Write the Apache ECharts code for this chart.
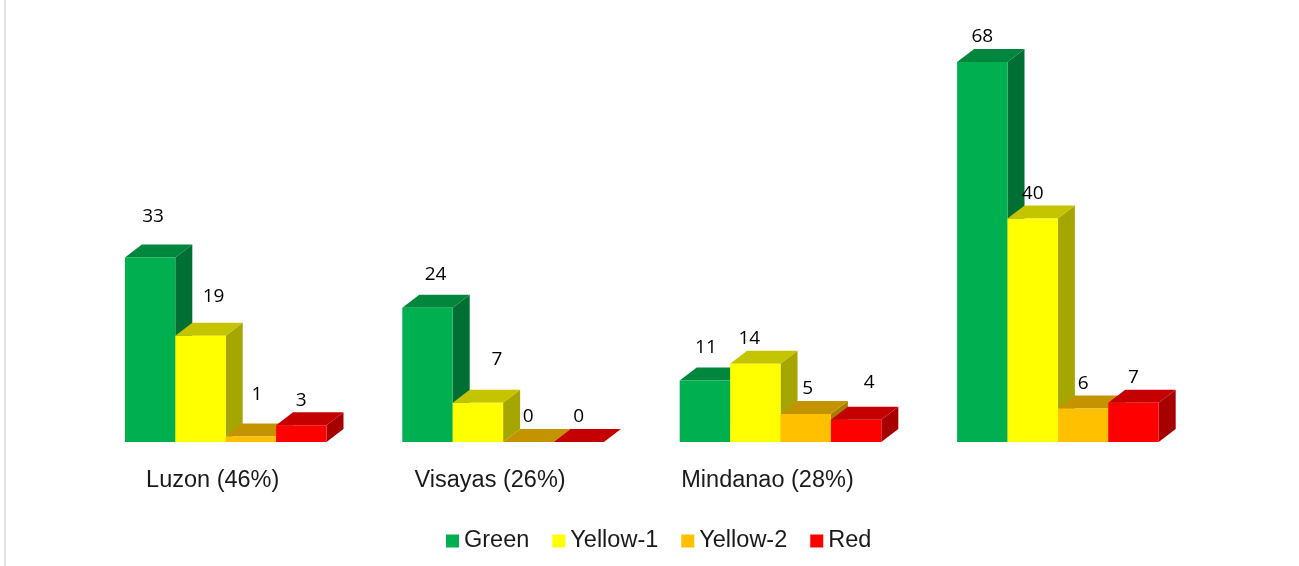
<!DOCTYPE html>
<html>
<head>
<meta charset="utf-8">
<style>html,body{margin:0;padding:0;background:#fff}#c{width:1299px;height:566px}</style>
<script src="https://cdn.jsdelivr.net/npm/echarts@6/dist/echarts.min.js"></script>
</head>
<body>
<div id="c"></div>
<script>
const categories = ['Luzon (46%)', 'Visayas (26%)', 'Mindanao (28%)', ''];
const seriesNames = ['Green', 'Yellow-1', 'Yellow-2', 'Red'];
const green = [33, 24, 11, 68];
const yellow1 = [19, 7, 14, 40];
const yellow2 = [1, 0, 5, 6];
const red = [3, 0, 4, 7];
const values = [green, yellow1, yellow2, red];

// face colours: front, top, side
const faces = [
  ['#00B050', '#00863D', '#006F33'],
  ['#FFFF00', '#C4C400', '#A6A600'],
  ['#FFC000', '#C49300', '#A67D00'],
  ['#FF0000', '#C40000', '#A60000']
];
// hand-placed label nudges in the reference, [dx, dy] from the default spot
const labelShift = [
  [[3, -16], [8, -8], [1, -8], [0, 0]],
  [[13, -14], [19, -18], [-6, 0], [0, 0]],
  [[6, -17], [0, 0], [2, 0], [0, 0]],
  [[0, 0], [0, 0], [13, -12], [0, 0]]
];
const depthX = 17, depthY = 13, groupFrac = 0.7267;

function makeRender(si) {
  return function (params, api) {
    const cat = api.value(0), v = api.value(1);
    const base = api.coord([cat, 0]), top = api.coord([cat, v]);
    const w = api.size([1, 0])[0] * groupFrac / 4;
    const x = base[0] - 2 * w + si * w, yT = top[1], yB = base[1];
    const c = faces[si], sh = labelShift[si][cat];
    const poly = (pts, fill, z2) => ({ type: 'polygon', z2: z2, shape: { points: pts }, style: { fill: fill } });
    return {
      type: 'group',
      children: [
        poly([[x + w, yB], [x + w + depthX, yB - depthY], [x + w + depthX, yT - depthY], [x + w, yT]], c[2], 1),
        poly([[x, yT], [x + depthX, yT - depthY], [x + w + depthX, yT - depthY], [x + w, yT]], c[1], 2),
        { type: 'rect', z2: 3, shape: { x: x, y: yT, width: w, height: yB - yT }, style: { fill: c[0] } },
        { type: 'text', z2: 100, style: {
            text: String(v), x: x + w / 2 + sh[0], y: yT - 25 + sh[1],
            align: 'center', verticalAlign: 'middle',
            font: '19px "Open Sans"', fill: '#000' } }
      ]
    };
  };
}

const chart = echarts.init(document.getElementById('c'), null, { renderer: 'canvas' });
chart.setOption({
  animation: false,
  backgroundColor: '#fff',
  graphic: [{ type: 'rect', silent: true, shape: { x: 4, y: 0, width: 2, height: 566 }, style: { fill: '#E2E2E2' } }],
  grid: { left: 87, top: 50.7, width: 1109.6, height: 391.3 },
  legend: {
    left: 441, top: 524, icon: 'rect', itemWidth: 13, itemHeight: 13, itemGap: 23,
    data: seriesNames,
    textStyle: { fontFamily: 'Liberation Sans', fontSize: 23.5, color: '#1a1a1a', padding: [0, 0, 0, 0] }
  },
  xAxis: {
    type: 'category', data: categories,
    axisLine: { show: false }, axisTick: { show: false },
    axisLabel: { fontFamily: 'Liberation Sans', fontSize: 23.5, color: '#1a1a1a', margin: 27, padding: [0, 26, 0, 0], interval: 0 }
  },
  yAxis: { type: 'value', min: 0, max: 70, interval: 10, show: false, splitLine: { show: false } },
  series: seriesNames.map((name, si) => ({
    type: 'custom', name: name, clip: false,
    itemStyle: { color: faces[si][0] },
    encode: { x: 0, y: 1 },
    renderItem: makeRender(si),
    data: values[si].map((v, i) => [i, v])
  }))
});
</script>
</body>
</html>
